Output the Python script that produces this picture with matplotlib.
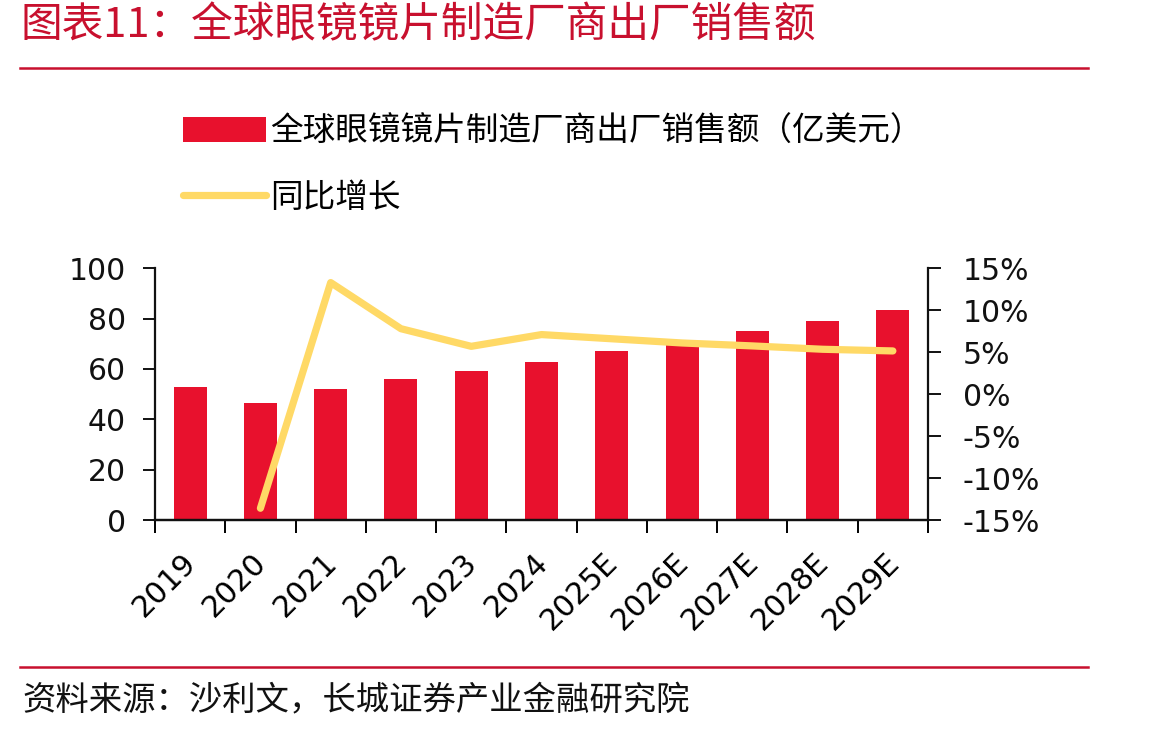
import numpy as np
import matplotlib
matplotlib.use('Agg')
import matplotlib.pyplot as plt
from matplotlib.lines import Line2D
from matplotlib.ticker import FuncFormatter, MultipleLocator
import matplotlib.transforms as mtransforms

plt.rcParams['font.family'] = ['Noto Sans CJK SC', 'DejaVu Sans']

# 数据
years = ['2019', '2020', '2021', '2022', '2023', '2024',
         '2025E', '2026E', '2027E', '2028E', '2029E']
sales = [53.0, 46.4, 51.9, 56.0, 59.2, 62.9, 67.1, 71.0, 75.1, 78.9, 83.5]
growth = [np.nan, -13.6, 13.3, 7.8, 5.7, 7.1, 6.6, 6.1, 5.75, 5.35, 5.15]

title = '图表11：全球眼镜镜片制造厂商出厂销售额'
source = '资料来源：沙利文，长城证券产业金融研究院'
bar_label = '全球眼镜镜片制造厂商出厂销售额（亿美元）'
line_label = '同比增长'

RED = '#C8102E'
BAR = '#E8112D'
YEL = '#FFD966'

W, H = 1149, 732
fig = plt.figure(figsize=(W / 100, H / 100), dpi=100)
ax = fig.add_axes([155 / W, 1 - 520 / H, (928 - 155) / W, (520 - 268.3) / H])

x = np.arange(len(years))
b = ax.bar(x, sales, width=0.47, color=BAR, zorder=2)
ax.set_xlim(-0.5, len(years) - 0.5)
ax.set_ylim(0, 100)
ax.yaxis.set_major_locator(MultipleLocator(20))

ax2 = ax.twinx()
l, = ax2.plot(x, growth, color=YEL, lw=5.2, solid_capstyle='round',
              solid_joinstyle='round', zorder=3)
ax2.set_ylim(-15, 15)
ax2.yaxis.set_major_locator(MultipleLocator(5))
ax2.yaxis.set_major_formatter(FuncFormatter(lambda v, p: f'{v:.0f}%'))

for a in (ax, ax2):
    a.spines['top'].set_visible(False)
    for s in a.spines.values():
        s.set_linewidth(1.6)
        s.set_color('#111111')
    a.set_facecolor('none')
ax.spines['right'].set_visible(False)
ax2.spines['left'].set_visible(False)

ax.tick_params(axis='y', direction='out', length=9, width=1.4, labelsize=21.5,
               pad=12, labelfontfamily='DejaVu Sans', colors='#111111')
ax2.tick_params(axis='y', direction='out', length=9, width=1.4, labelsize=21.5,
                pad=16, labelfontfamily='DejaVu Sans', colors='#111111')

# x 轴：刻度线在类别边界，标签在中间
ax.set_xticks(x)
ax.set_xticklabels(years, rotation=45, ha='right', va='top',
                   fontsize=21.5, family='DejaVu Sans')
ax.set_xticks(np.arange(-0.5, len(years)), minor=True)
ax.tick_params(axis='x', which='major', length=0, pad=20)
ax.tick_params(axis='x', which='minor', direction='out', length=9, width=1.4)
off = mtransforms.ScaledTranslation(12 / 100, 0, fig.dpi_scale_trans)
for lab in ax.get_xticklabels():
    lab.set_transform(lab.get_transform() + off)

# 图例
fig.legend([b, l], [bar_label, line_label], loc='upper left',
           bbox_to_anchor=(183 / W, 1 - 116 / H), frameon=False,
           fontsize=23.5, handlelength=2.55, handleheight=0.8,
           handletextpad=0.12, labelspacing=1.05, borderpad=0,
           borderaxespad=0)

# 标题、分隔线、来源
fig.text(20 / W, 1 - 26 / H, title, color=RED, fontsize=30,
         va='center', ha='left')
fig.add_artist(Line2D([20 / W, 1088 / W], [1 - 68 / H] * 2, color=RED, lw=1.8))
fig.add_artist(Line2D([20 / W, 1088 / W], [1 - 667 / H] * 2, color=RED, lw=1.8))
fig.text(22 / W, 1 - 701 / H, source, color='#111111', fontsize=24,
         va='center', ha='left')

fig.savefig('out.png', dpi=100)
